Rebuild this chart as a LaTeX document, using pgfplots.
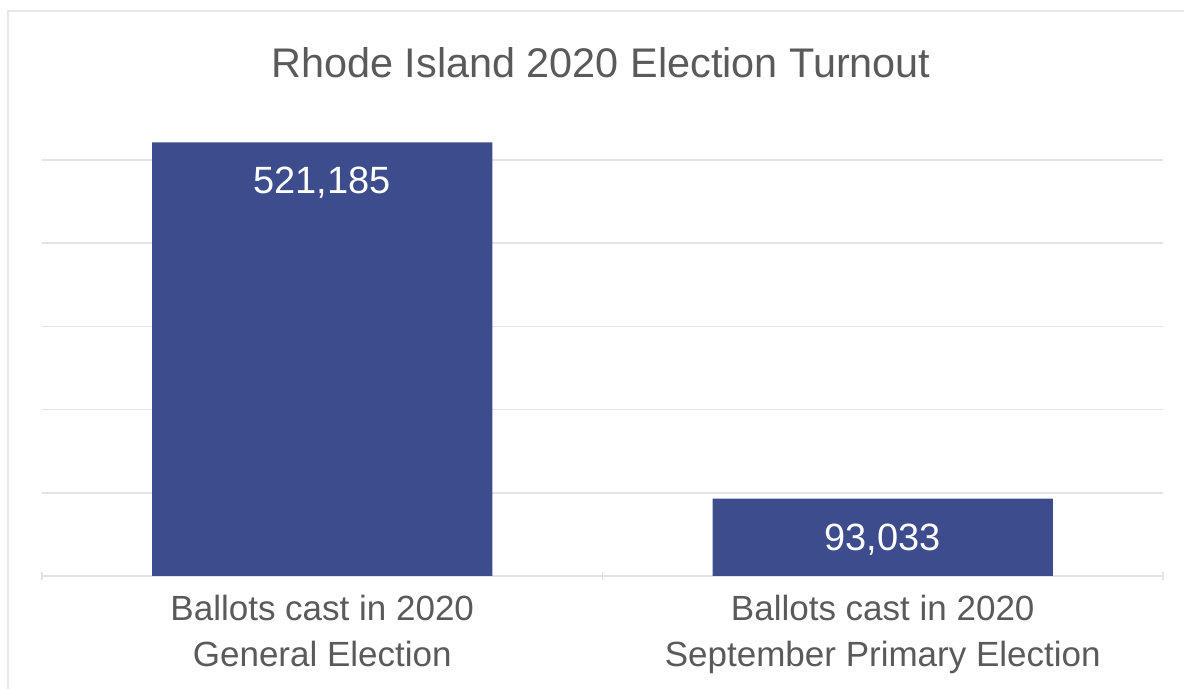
\documentclass[border=0pt]{standalone}
\usepackage{pgfplots}
\pgfplotsset{compat=1.18}
\usepackage{fontspec}
\setmainfont{Liberation Sans}
\definecolor{barblue}{HTML}{3C4C8C}
\definecolor{txtgray}{HTML}{5A5A5A}
\definecolor{gridgray}{HTML}{E3E3E3}
\definecolor{framegray}{HTML}{E8E8E8}
\begin{document}
\begin{tikzpicture}
\path[use as bounding box] (0,0) rectangle (592pt,344.5pt);
\draw[framegray, line width=1pt] (4pt,0) -- (4pt,339pt) -- (592pt,339pt);
\begin{axis}[
  at={(21pt,56.5pt)}, anchor=south west,
  width=560.5pt, height=249.6pt, scale only axis,
  xmin=-0.5, xmax=1.5, ymin=0, ymax=600000,
  axis line style={draw=none},
  ybar, bar width=0.607,
  ytick={0,100000,200000,300000,400000,500000},
  yticklabels={}, ymajorgrids,
  major grid style={gridgray, line width=0.75pt},
  ytick style={draw=none},
  scaled y ticks=false,
  xtick={0,1},
  xticklabels={Ballots cast in 2020\\General Election, Ballots cast in 2020\\September Primary Election},
  xtick pos=bottom,
  major tick length=0pt,
  xticklabel style={align=center, text=txtgray, font=\fontsize{17.5}{23}\selectfont, inner sep=0pt, yshift=-9.5pt},
  extra x ticks={-0.5,0.5,1.5},
  extra x tick labels={},
  extra x tick style={major tick length=4pt, tick align=center, xtick style={draw=gridgray, line width=0.75pt}},
  nodes near coords={\pgfmathprintnumber[fixed, precision=0, 1000 sep={,}, assume math mode=true]{\pgfplotspointmeta}},
  every node near coord/.append style={anchor=north, yshift=-9pt, text=white, font=\fontsize{19}{22}\selectfont},
  clip=false,
]
\addplot[fill=barblue, draw=none] coordinates {(0,521185) (1,93033)};
\end{axis}
\node[anchor=base, text=txtgray, font=\fontsize{20.7}{24}\selectfont] at (300.5pt,305.5pt) {Rhode Island 2020 Election Turnout};
\end{tikzpicture}
\end{document}
